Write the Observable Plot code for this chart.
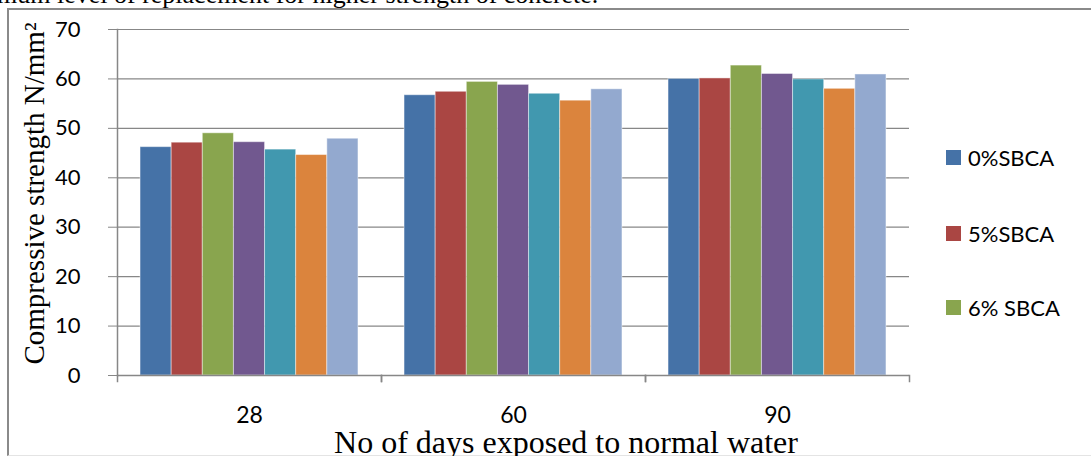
<!DOCTYPE html>
<html><head><meta charset="utf-8">
<script src="https://cdn.jsdelivr.net/npm/d3@7"></script>
<script src="https://cdn.jsdelivr.net/npm/@observablehq/plot@0.6"></script>
<style>
html,body{margin:0;padding:0;background:#fff;overflow:hidden}
#wrap{position:relative;width:1091px;height:456px;overflow:hidden;background:#fff}
#box{position:absolute;left:7px;top:8px;width:1200px;height:445px;border-left:2px solid #8a8a8a;border-top:2px solid #8a8a8a;border-bottom:1px solid #e4e4e4}
#cut{position:absolute;left:-3px;top:-18px;font:26px/26px "Liberation Serif","Times New Roman",serif;white-space:nowrap;color:#000}
#chart{position:absolute;left:0;top:0}
#xtitle{position:absolute;left:566px;top:431px;transform:translateX(-50%);font:32px/22px "Liberation Serif","Times New Roman",serif;white-space:nowrap;color:#000}
#legend{position:absolute;left:0;top:0}
.lg{position:absolute;display:flex;align-items:center;font:22px "Lato",sans-serif;color:#000;white-space:nowrap}
.sw{width:15px;height:15px;margin-right:7px}
g[aria-label="y-axis label"] text{font-family:"Liberation Serif","Times New Roman",serif;font-size:29px}
g[aria-label="y-axis label"]{translate:0 -9px}
</style></head><body>
<div id="wrap">
 <div id="box"></div>
 <div id="cut">mum level of replacement for higher strength of concrete.</div>
 <div id="chart"></div>
 <div id="xtitle">No of days exposed to normal water</div>
 <div id="legend"></div>
</div>
<script>
const days = ["28", "60", "90"];
const series = ["0%SBCA", "5%SBCA", "6% SBCA", "7% SBCA", "8% SBCA", "9% SBCA", "10% SBCA"];
const colors = ["#4572A7", "#AA4643", "#89A54E", "#71588F", "#4198AF", "#DB843D", "#93A9CF"];
const strength28 = [46.2, 47.1, 49.0, 47.2, 45.7, 44.6, 47.9];
const strength60 = [56.7, 57.4, 59.4, 58.8, 57.0, 55.6, 57.9];
const strength90 = [60.0, 60.1, 62.7, 61.0, 59.9, 58.0, 60.9];
const yTicks = [0, 10, 20, 30, 40, 50, 60, 70];
const legendShown = series.slice(0, 3);

const byDay = {"28": strength28, "60": strength60, "90": strength90};
const data = days.flatMap(day => series.map((s, i) => ({day, series: s, value: byDay[day][i]})));

const gray = "#878787";
const plot = Plot.plot({
  width: 1091, height: 456,
  marginLeft: 117, marginRight: 182, marginTop: 29, marginBottom: 81,
  fx: {domain: days, padding: 0, label: null},
  x: {domain: series, paddingInner: 0, paddingOuter: 0.74, round: false, axis: null},
  y: {domain: [0, 70], label: null},
  color: {domain: series, range: colors},
  style: {fontFamily: "Lato, sans-serif", fontSize: "22px", color: "#000", background: "transparent", overflow: "visible"},
  marks: [
    Plot.gridY(yTicks, {stroke: gray, strokeOpacity: 1, strokeWidth: 1.2}),
    Plot.barY(data, {fx: "day", x: "series", y: "value", fill: "series", stroke: "#fff", strokeOpacity: 0.45, strokeWidth: 1}),
    Plot.ruleY([0], {stroke: gray, strokeWidth: 1.5}),
    Plot.frame({anchor: "left", fx: () => "28", stroke: gray, strokeWidth: 1.5}),
    Plot.frame({anchor: "left", insetTop: 346, insetBottom: -6, stroke: gray, strokeWidth: 1.5}),
    Plot.frame({anchor: "right", insetTop: 346, insetBottom: -6, stroke: gray, strokeWidth: 1.5}),
    Plot.axisY(yTicks, {anchor: "left", tickSize: 9, tickPadding: 28, stroke: gray, fill: "#000",
      label: "Compressive strength N/mm²", labelArrow: "none", labelAnchor: "center", labelOffset: 94}),
    Plot.axisFx({anchor: "bottom", tickSize: 0, tickPadding: 31, label: null, fill: "#000", fontSize: "23px"})
  ]
});
document.getElementById("chart").appendChild(plot);

const cs = plot.scale("color");
const legendY = [157, 233, 307];
const lg = document.getElementById("legend");
legendShown.forEach((name, i) => {
  const d = document.createElement("div");
  d.className = "lg";
  d.style.left = "946px";
  d.style.top = (legendY[i] - 15) + "px";
  d.style.height = "30px";
  const sw = document.createElement("div");
  sw.className = "sw";
  sw.style.background = cs.apply(name);
  const t = document.createElement("span");
  t.textContent = name;
  d.appendChild(sw); d.appendChild(t);
  lg.appendChild(d);
});
</script>
</body></html>
